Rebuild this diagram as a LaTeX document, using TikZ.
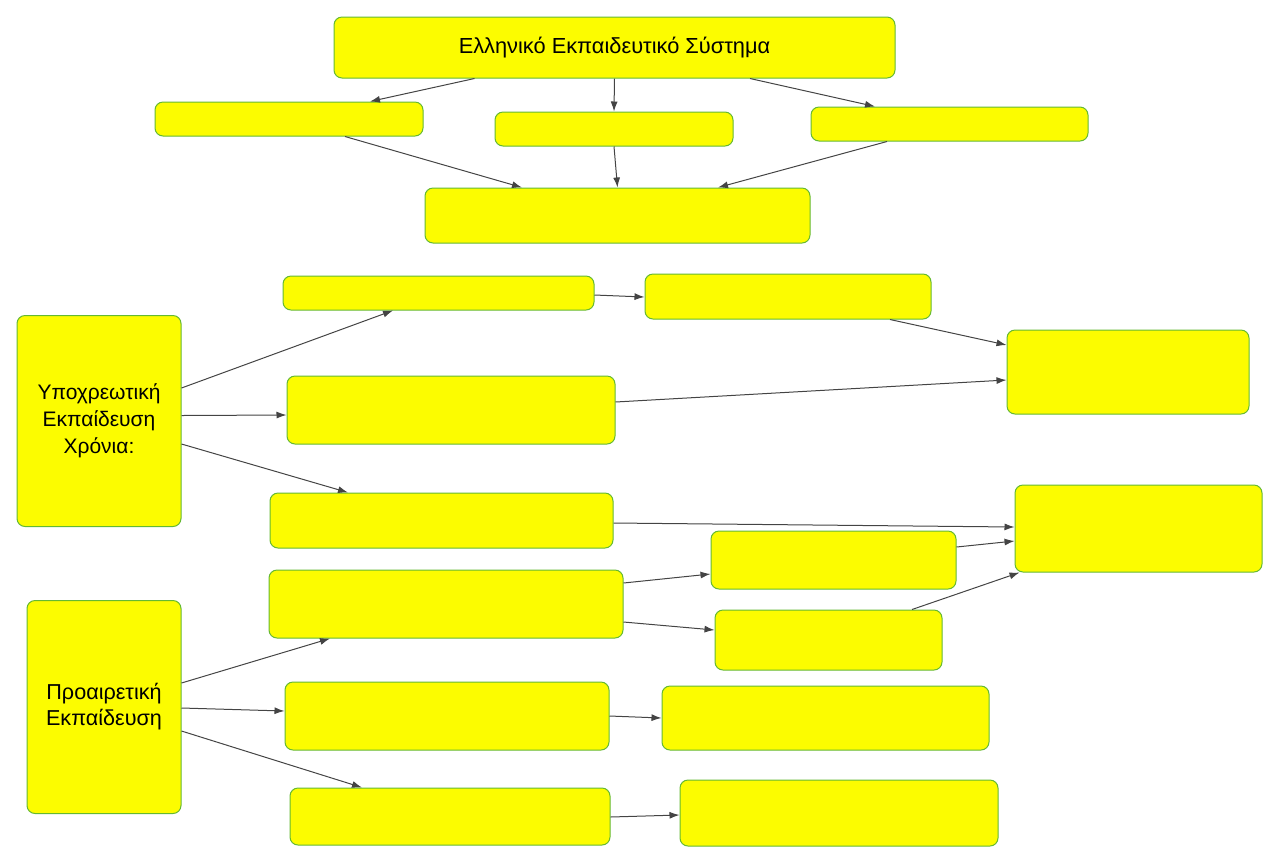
\documentclass[tikz,border=0pt]{standalone}
\usepackage{fontspec}
\setmainfont{Liberation Sans}
\usetikzlibrary{arrows.meta}
\definecolor{boxyellow}{RGB}{252,252,0}
\definecolor{boxline}{RGB}{100,185,50}
\definecolor{arrowgray}{RGB}{68,68,68}
\tikzset{
  box/.style 2 args={draw=boxline, fill=boxyellow, rounded corners=4pt, line width=0.5pt,
    minimum width=#1*0.5pt, minimum height=#2*0.5pt, inner sep=0pt, align=center},
  conn/.style={-{Latex[length=5pt,width=3.5pt]}, draw=arrowgray, line width=0.5pt}
}
\begin{document}
\begin{tikzpicture}[x=0.5pt, y=-0.5pt]
    \useasboundingbox (0,0) rectangle (1280,864);
    \node[box={561}{61}] (top) at (614.5,47.5) {\fontsize{10.9}{13}\selectfont\raisebox{-1pt}{Ελληνικό Εκπαιδευτικό Σύστημα}};
    \node[box={268}{34}] (l1) at (289,119) {};
    \node[box={238}{34}] (m1) at (614,129) {};
    \node[box={277}{34}] (r1) at (949.5,124) {};
    \node[box={385}{55}] (mid) at (617.5,215.5) {};

    \node[box={164}{211}, font=\fontsize{10.5}{13.5}\selectfont] (yp) at (99,421) {Υποχρεωτική\\Εκπαίδευση\\Χρόνια:};
    \node[box={311}{34}] (a1) at (438.5,293) {};
    \node[box={286}{45}] (a2) at (788,296.5) {};
    \node[box={242}{84}] (a3) at (1128,372) {};
    \node[box={328}{68}] (b1) at (451,410) {};
    \node[box={343}{55}] (c1) at (441.5,520.5) {};
    \node[box={247}{87}] (r2) at (1138.5,528.5) {};

    \node[box={154}{213}, font=\fontsize{10.8}{13}\selectfont] (pr) at (104,707) {Προαιρετική\\Εκπαίδευση};
    \node[box={354}{68}] (d1) at (446,604) {};
    \node[box={245}{58}] (e1) at (833.5,560) {};
    \node[box={227}{60}] (e2) at (828.5,640) {};
    \node[box={324}{68}] (f1) at (447,716) {};
    \node[box={327}{64}] (f2) at (825.5,718) {};
    \node[box={320}{57}] (g1) at (450,816.5) {};
    \node[box={318}{66}] (g2) at (839,813) {};

    % top part
    \draw[conn] ([xshift=-70pt]top.south) -- ([xshift=40.5pt]l1.north);
    \draw[conn] (top.south) -- (m1.north);
    \draw[conn] ([xshift=67.75pt]top.south) -- ([xshift=-37.25pt]r1.north);
    \draw[conn] ([xshift=28pt]l1.south) -- ([xshift=-47.75pt]mid.north);
    \draw[conn] (m1.south) -- (mid.north);
    \draw[conn] ([xshift=-31.25pt]r1.south) -- ([xshift=50.25pt]mid.north);

    % compulsory
    \draw[conn] ([yshift=16.5pt]yp.east) -- ([xshift=-22.75pt]a1.south);
    \draw[conn] ([yshift=2.75pt]yp.east) -- ([yshift=-2.5pt]b1.west);
    \draw[conn] ([yshift=-11.5pt]yp.east) -- ([xshift=-46.75pt]c1.north);
    \draw[conn] ([yshift=-1pt]a1.east) -- ([yshift=-0.25pt]a2.west);
    \draw[conn] ([xshift=51pt]a2.south) -- ([yshift=13.5pt]a3.west);
    \draw[conn] ([yshift=4pt]b1.east) -- ([yshift=-4pt]a3.west);
    \draw[conn] ([yshift=-1.25pt]c1.east) -- ([yshift=0.75pt]r2.west);

    % optional
    \draw[conn] ([yshift=12pt]pr.east) -- ([xshift=-58pt]d1.south);
    \draw[conn] ([yshift=-0.5pt]pr.east) -- ([yshift=2.5pt]f1.west);
    \draw[conn] ([yshift=-12pt]pr.east) -- ([xshift=-44pt]g1.north);
    \draw[conn] ([yshift=10.5pt]d1.east) -- ([yshift=-7pt]e1.west);
    \draw[conn] ([yshift=-9pt]d1.east) -- ([yshift=5pt]e2.west);
    \draw[conn] ([yshift=6.5pt]e1.east) -- ([yshift=-6.25pt]r2.west);
    \draw[conn] ([xshift=41.75pt]e2.north) -- ([xshift=2.5pt]r2.south west);
    \draw[conn] (f1.east) -- (f2.west);
    \draw[conn] ([yshift=-0.25pt]g1.east) -- ([yshift=-1pt]g2.west);
\end{tikzpicture}
\end{document}
